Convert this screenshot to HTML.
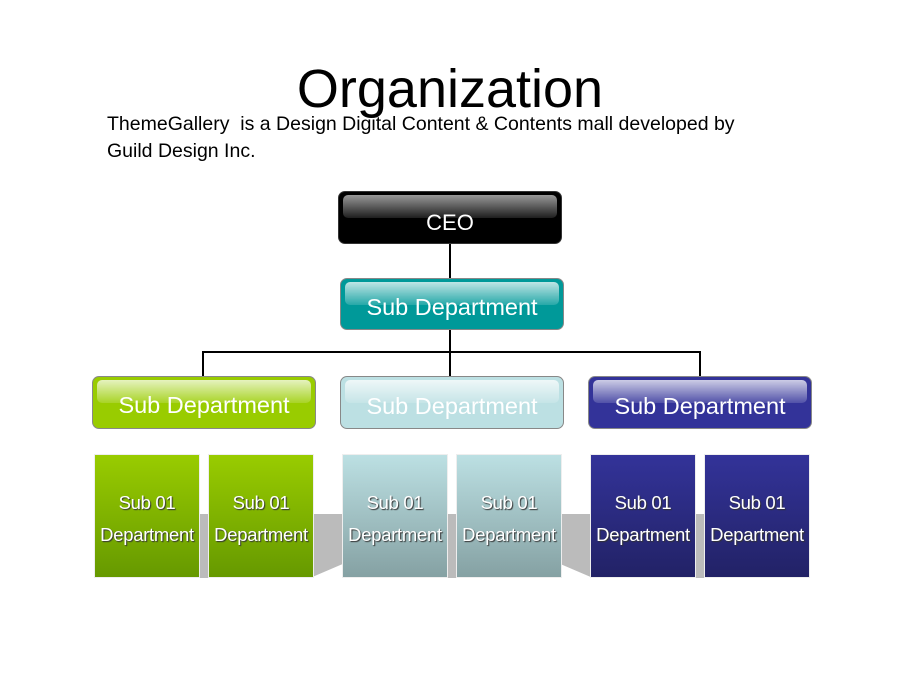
<!DOCTYPE html>
<html><head><style>
body{margin:0;width:900px;height:675px;background:#fff;position:relative;overflow:hidden;font-family:"Liberation Sans",sans-serif}
.a{position:absolute}
.n{position:absolute;border-radius:7px;color:#fff;text-align:center;box-sizing:border-box;border:1px solid #888;overflow:hidden}
.n .g{position:absolute;left:4px;right:4px;top:3px;height:45%;border-radius:5px;background:linear-gradient(rgba(255,255,255,.75),rgba(255,255,255,.15))}
.n span{position:relative;font-size:23.5px}
.b{position:absolute;width:106px;top:454px;height:124px;color:#fff;text-align:center;font-size:18.5px;line-height:32px;padding-top:32px;box-sizing:border-box;text-shadow:1px 1px 1px #333;border:1px solid #eee;white-space:nowrap;letter-spacing:-0.3px}
.l{position:absolute;background:#000}
</style></head><body>
<div class="a" style="left:0;width:900px;top:58px;text-align:center;font-size:54px">Organization</div>
<div class="a" style="left:107px;top:111px;font-size:19.5px;line-height:27px">ThemeGallery &nbsp;is a Design Digital Content &amp; Contents mall developed by<br>Guild Design Inc.</div>
<div class="l" style="left:449px;top:244px;width:2px;height:34px"></div>
<div class="l" style="left:449px;top:330px;width:2px;height:46px"></div>
<div class="l" style="left:202px;top:351px;width:499px;height:2px"></div>
<div class="l" style="left:202px;top:351px;width:2px;height:25px"></div>
<div class="l" style="left:699px;top:351px;width:2px;height:25px"></div>
<div class="n" style="left:338px;top:191px;width:224px;height:53px;background:#000;border-color:#333;line-height:62px"><div class="g" style="opacity:.8"></div><span style="font-size:22px">CEO</span></div>
<div class="n" style="left:340px;top:278px;width:224px;height:52px;background:#009999;line-height:56px"><div class="g"></div><span>Sub Department</span></div>
<div class="n" style="left:92px;top:376px;width:224px;height:53px;background:#99cc00;line-height:56px"><div class="g"></div><span>Sub Department</span></div>
<div class="n" style="left:340px;top:376px;width:224px;height:53px;background:#bce0e3;line-height:58px"><div class="g"></div><span>Sub Department</span></div>
<div class="n" style="left:588px;top:376px;width:224px;height:53px;background:#333399;line-height:58px"><div class="g"></div><span>Sub Department</span></div>
<svg class="a" style="left:0;top:0" width="900" height="675">
<rect x="195" y="514" width="20" height="64" fill="#bbb"/>
<polygon points="310,514 345,514 345,563 310,578" fill="#bbb"/>
<rect x="443" y="514" width="20" height="64" fill="#bbb"/>
<polygon points="558,514 593,514 593,578 558,563" fill="#bbb"/>
<rect x="691" y="514" width="20" height="64" fill="#bbb"/>
</svg>
<div class="b" style="left:94px;background:linear-gradient(#9c0,#690)">Sub 01<br>Department</div>
<div class="b" style="left:208px;background:linear-gradient(#9c0,#690)">Sub 01<br>Department</div>
<div class="b" style="left:342px;background:linear-gradient(#bce0e3,#85a1a3)">Sub 01<br>Department</div>
<div class="b" style="left:456px;background:linear-gradient(#bce0e3,#85a1a3)">Sub 01<br>Department</div>
<div class="b" style="left:590px;background:linear-gradient(#339,#226)">Sub 01<br>Department</div>
<div class="b" style="left:704px;background:linear-gradient(#339,#226)">Sub 01<br>Department</div>
</body></html>
